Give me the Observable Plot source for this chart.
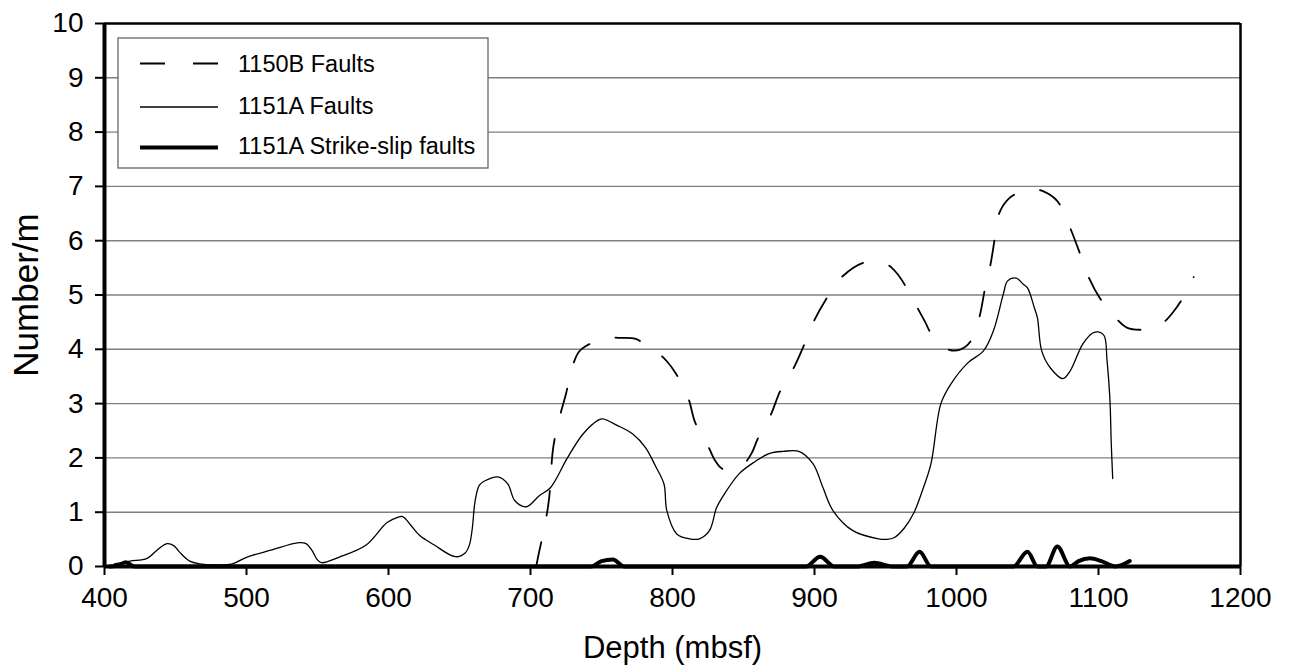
<!DOCTYPE html>
<html>
<head>
<meta charset="utf-8">
<script src="https://cdn.jsdelivr.net/npm/d3@7"></script>
<script src="https://cdn.jsdelivr.net/npm/@observablehq/plot@0.6"></script>
<style>
  html, body { margin: 0; padding: 0; background: white; }
  #chart { width: 1290px; height: 671px; }
</style>
</head>
<body>
<div id="chart"></div>
<script>
// ---- Data ----
const seriesNames = ["1150B Faults", "1151A Faults", "1151A Strike-slip faults"];

// 1150B Faults: [depth (mbsf), number/m]
const faults1150B = [
  [704,0],[706,0.26],[710,0.75],[713,1.23],[716,2.19],[720,2.7],[725,3.18],[729,3.64],
  [734,3.95],[739,4.06],[747,4.15],[755,4.21],[764,4.21],[774,4.19],[782,4.07],[790,3.93],
  [796,3.78],[802,3.57],[811,3.11],[816,2.65],[825,2.22],[830,1.95],[835,1.8],[842,1.8],
  [851,1.91],[856,2.1],[860,2.35],[869,2.78],[876,3.24],[885,3.64],[893,4.1],[900,4.54],
  [910,5.0],[920,5.35],[935,5.6],[944,5.6],[952,5.55],[958,5.4],[964,5.17],[973,4.74],
  [978,4.5],[982,4.3],[995,3.99],[1003,4.0],[1010,4.15],[1016,4.58],[1020,5.11],[1024,5.57],
  [1027,6.05],[1030,6.5],[1037,6.78],[1045,6.9],[1053,6.95],[1062,6.9],[1071,6.73],[1079,6.3],
  [1086,5.83],[1092,5.39],[1101,4.94],[1112,4.58],[1120,4.4],[1129,4.36],[1138,4.4],[1146,4.5],
  [1153,4.7],[1159,4.93],[1167,5.33]
];

// 1151A Faults
const faults1151A = [
  [407,0.05],[418,0.1],[430,0.15],[437,0.3],[444,0.42],[449,0.38],[453,0.26],[460,0.1],
  [467,0.05],[477,0.03],[490,0.05],[500,0.17],[517,0.3],[537,0.44],[542,0.42],[546,0.3],
  [550,0.12],[553,0.07],[565,0.17],[584,0.39],[599,0.81],[606,0.9],[610,0.92],[616,0.75],
  [622,0.57],[632,0.4],[647,0.18],[654,0.25],[657,0.4],[659,0.7],[661,1.21],[664,1.5],
  [668,1.58],[677,1.65],[684,1.52],[689,1.21],[697,1.1],[706,1.3],[714,1.45],[726,2.0],
  [737,2.44],[748,2.7],[751,2.72],[761,2.6],[772,2.44],[781,2.19],[788,1.85],[794,1.52],
  [796,1.03],[803,0.6],[812,0.51],[819,0.51],[826,0.66],[831,1.08],[835,1.27],[847,1.71],
  [858,1.93],[868,2.08],[878,2.12],[889,2.12],[899,1.89],[906,1.45],[913,1.03],[927,0.66],
  [945,0.51],[951,0.5],[956,0.53],[963,0.7],[970,0.99],[976,1.4],[982,1.89],[989,3.0],
  [996,3.36],[1008,3.75],[1019,3.97],[1026,4.34],[1033,5.02],[1036,5.26],[1042,5.31],[1047,5.2],
  [1050,5.13],[1055,4.75],[1057,4.58],[1060,3.97],[1066,3.66],[1075,3.46],[1080,3.6],[1089,4.1],
  [1096,4.3],[1100,4.32],[1104,4.25],[1106,3.8],[1108,3.1],[1109,2.26],[1110,1.62]
];

// 1151A Strike-slip faults
const strikeSlip1151A = [
  [404,0],[410,0.02],[415,0.08],[421,0],[743,0],[750,0.1],[758,0.13],[766,0],[894,0],
  [904,0.18],[914,0],[930,0],[942,0.07],[955,0],[965,0],[974,0.27],[982,0],[1040,0],
  [1050,0.27],[1057,0],[1063,0],[1071,0.37],[1080,0],[1086,0.1],[1094,0.15],[1102,0.1],
  [1112,0],[1122,0.1]
];

const xTicks = [400, 500, 600, 700, 800, 900, 1000, 1100, 1200];
const yTicks = [0, 1, 2, 3, 4, 5, 6, 7, 8, 9, 10];
const xLabel = "Depth (mbsf)";
const yLabel = "Number/m";

// ---- Build table ----
const toRows = (arr, name) => arr.map(([d, v]) => ({depth: d, value: v, series: name}));
const rows1150B = toRows(faults1150B, seriesNames[0]);
const rows1151A = toRows(faults1151A, seriesNames[1]);
const rowsSS = toRows(strikeSlip1151A, seriesNames[2]);

const font = "'Liberation Sans', Arial, Helvetica, sans-serif";

const plot = Plot.plot({
  width: 1290,
  height: 671,
  marginLeft: 104,
  marginRight: 50,
  marginTop: 23,
  marginBottom: 105,
  x: {domain: [400, 1200]},
  y: {domain: [0, 10]},
  style: {fontFamily: font, background: "white", color: "black", overflow: "visible"},
  marks: [
    Plot.gridY(yTicks.filter(t => t > 0 && t < 10), {stroke: "#808080", strokeOpacity: 1, strokeWidth: 1.4}),
    Plot.ruleY([10], {stroke: "black", strokeWidth: 2.5}),
    Plot.ruleX([1200], {stroke: "black", strokeWidth: 2.5}),
    Plot.line(rows1150B, {x: "depth", y: "value", stroke: "black", strokeWidth: 1.8,
      strokeDasharray: "25,27", curve: "catmull-rom"}),
    Plot.line(rows1151A, {x: "depth", y: "value", stroke: "black", strokeWidth: 1.3,
      curve: "catmull-rom"}),
    Plot.line(rowsSS, {x: "depth", y: "value", stroke: "black", strokeWidth: 4,
      curve: "monotone-x", strokeLinejoin: "round"}),
    Plot.axisY(yTicks, {tickSize: 9, tickPadding: 12, fontSize: 28, label: null,
      tickFormat: d3.format("d"), strokeWidth: 2, fill: "black"}),
    Plot.axisX(xTicks, {tickSize: 9, tickPadding: 12, fontSize: 28, label: null,
      tickFormat: d3.format("d"), strokeWidth: 2, fill: "black"}),
    Plot.ruleX([400], {stroke: "black", strokeWidth: 4}),
    Plot.ruleY([0], {stroke: "black", strokeWidth: 4}),
    Plot.text([xLabel], {frameAnchor: "bottom", text: d => d, dy: 91, lineAnchor: "bottom",
      textAnchor: "middle", fontSize: 31, fill: "black"}),
    Plot.text([yLabel], {frameAnchor: "left", text: d => d, dx: -78, rotate: -90,
      textAnchor: "middle", fontSize: 35, fill: "black"})
  ]
});

document.getElementById("chart").appendChild(plot);

// ---- Legend (inside plot area) ----
const svg = d3.select(plot);
const lg = svg.append("g").attr("font-family", font).attr("text-anchor", "start");
lg.append("rect").attr("x", 118).attr("y", 38).attr("width", 370).attr("height", 130)
  .attr("fill", "white").attr("stroke", "#666").attr("stroke-width", 1.3);
const legendItems = [
  {name: seriesNames[0], y: 63.5, ty: 64, w: 1.8, dash: "25,28"},
  {name: seriesNames[1], y: 107, ty: 106, w: 1.3, dash: null},
  {name: seriesNames[2], y: 147.5, ty: 145.5, w: 4, dash: null}
];
legendItems.forEach(it => {
  const l = lg.append("line").attr("x1", 140).attr("x2", 218).attr("y1", it.y).attr("y2", it.y)
    .attr("stroke", "black").attr("stroke-width", it.w);
  if (it.dash) l.attr("stroke-dasharray", it.dash);
  lg.append("text").attr("x", 238).attr("y", it.ty).attr("dy", "0.36em")
    .attr("text-anchor", "start").attr("font-size", 23.5).attr("fill", "black").text(it.name);
});
</script>
</body>
</html>
